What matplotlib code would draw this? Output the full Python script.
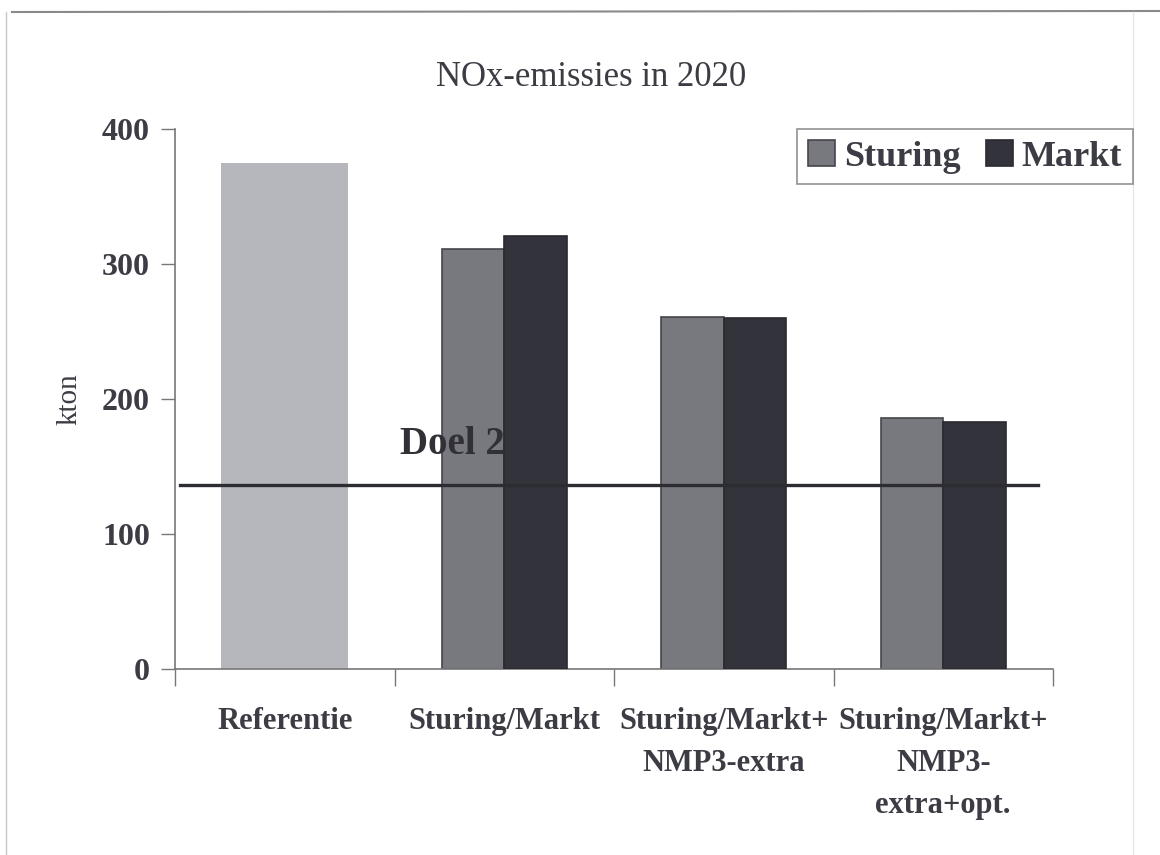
import matplotlib
matplotlib.use("Agg")
import matplotlib.pyplot as plt
import numpy as np
from matplotlib.lines import Line2D

plt.rcParams['font.family'] = ['Liberation Serif', 'DejaVu Serif']

categories = ["Referentie", "Sturing/Markt", "Sturing/Markt+\nNMP3-extra",
              "Sturing/Markt+\nNMP3-\nextra+opt."]
referentie = 375
sturing = [311, 261, 186]
markt = [321, 260, 183]
doel_2010 = 136

text_col = '#3c3c44'
ref_col = '#b6b7bd'
sturing_col = '#78797f'
markt_col = '#33343b'

fig = plt.figure(figsize=(11.6, 8.55), dpi=100)
ax = fig.add_axes([175 / 1160, 1 - 669 / 855, 878 / 1160, 540 / 855])

x = np.arange(len(categories))
w = 0.285

ax.bar(x[0], referentie, width=0.58, color=ref_col, zorder=2)
ax.bar(x[1:] - w / 2, sturing, width=w, color=sturing_col, edgecolor='#45464c',
       linewidth=1.2, zorder=2, label="Sturing")
# tekst ligt boven de Sturing-balken maar onder de Markt-balken
ax.text(0.525, 166, "Doel 2010", fontsize=28, fontweight='bold', color='#303036',
        ha='left', va='center', zorder=3)
ax.bar(x[1:] + w / 2, markt, width=w, color=markt_col, edgecolor='#2a2a30',
       linewidth=1.2, zorder=4, label="Markt")

ax.plot([-0.477, 3.43], [doel_2010, doel_2010], color='#2c2c32', lw=2.4, zorder=5)

ax.set_xlim(-0.5, 3.5)
ax.set_ylim(0, 400)
ax.set_yticks([0, 100, 200, 300, 400])
ax.tick_params(axis='y', direction='out', length=10, width=1, color='#777777',
               labelsize=23, labelcolor=text_col, pad=8)
for lbl in ax.get_yticklabels():
    lbl.set_fontweight('bold')

ax.set_xticks(x)
ax.set_xticklabels(categories, fontsize=22, fontweight='bold', color=text_col,
                   linespacing=1.6, va='top')
ax.tick_params(axis='x', length=0, pad=27)
ax.set_xticks([-0.5, 0.5, 1.5, 2.5, 3.5], minor=True)
ax.tick_params(axis='x', which='minor', direction='out', length=12, width=1,
               color='#777777')

for side in ['top', 'right']:
    ax.spines[side].set_visible(False)
for side in ['left', 'bottom']:
    ax.spines[side].set_color('#777777')
    ax.spines[side].set_linewidth(1.2)

ax.set_ylabel("kton", fontsize=21, color=text_col, labelpad=14)

fig.text(591 / 1160, 1 - 77 / 855, "NOx-emissies in 2020", fontsize=25,
         color=text_col, ha='center', va='center')

leg = fig.legend(loc='upper right', bbox_to_anchor=(1133 / 1160, 1 - 129 / 855),
                 ncol=2, frameon=True, fancybox=False, edgecolor='#777777',
                 handlelength=0.75, handleheight=0.75, handletextpad=0.25,
                 columnspacing=0.7, borderpad=0.3, borderaxespad=0,
                 prop={'size': 26, 'weight': 'bold'})
for t in leg.get_texts():
    t.set_color(text_col)
leg.get_frame().set_linewidth(1.2)

# kader rond de pagina
fig.add_artist(Line2D([12 / 1160, 1160 / 1160], [1 - 12 / 855, 1 - 11 / 855],
                      transform=fig.transFigure, color='#8a8a8a', lw=1.5))
fig.add_artist(Line2D([6 / 1160, 6 / 1160], [0, 1 - 12 / 855],
                      transform=fig.transFigure, color='#c8c8c8', lw=1))
fig.add_artist(Line2D([1133 / 1160, 1133 / 1160], [0, 1 - 12 / 855],
                      transform=fig.transFigure, color='#e6e6e6', lw=1))

fig.savefig("out.png", dpi=100)
